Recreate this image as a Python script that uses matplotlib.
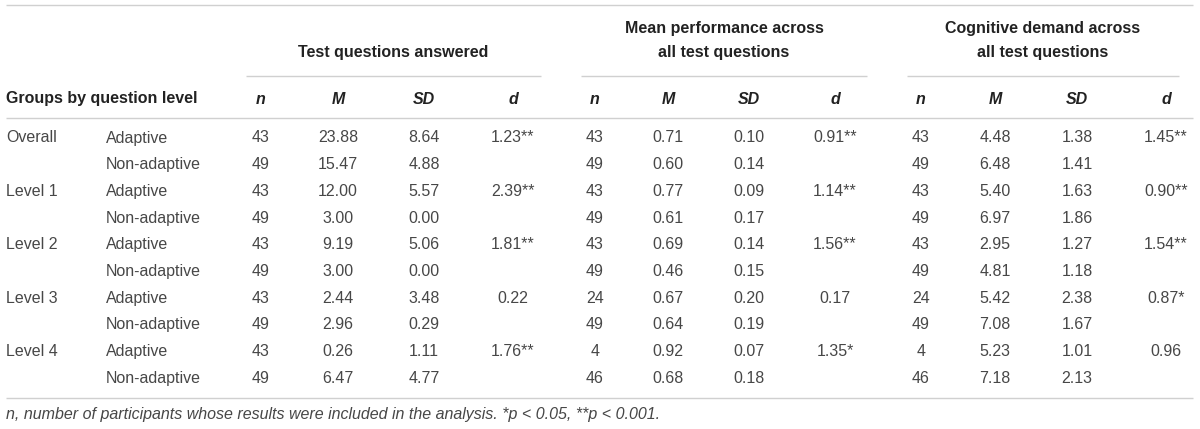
import matplotlib
matplotlib.use("Agg")
import matplotlib.pyplot as plt

plt.rcParams['font.family'] = ['Liberation Sans', 'DejaVu Sans']

# ---------------- data ----------------
group_labels = ["Overall", "Level 1", "Level 2", "Level 3", "Level 4"]
condition_labels = ["Adaptive", "Non-adaptive"]

measure_titles = ["Test questions answered",
                  "Mean performance across\nall test questions",
                  "Cognitive demand across\nall test questions"]
stat_headers = ["n", "M", "SD", "d"]

# Test questions answered
tqa_n = [43, 49, 43, 49, 43, 49, 43, 49, 43, 49]
tqa_M = [23.88, 15.47, 12.00, 3.00, 9.19, 3.00, 2.44, 2.96, 0.26, 6.47]
tqa_SD = [8.64, 4.88, 5.57, 0.00, 5.06, 0.00, 3.48, 0.29, 1.11, 4.77]
tqa_d = [1.23, None, 2.39, None, 1.81, None, 0.22, None, 1.76, None]
tqa_sig = ["**", "", "**", "", "**", "", "", "", "**", ""]

# Mean performance across all test questions
perf_n = [43, 49, 43, 49, 43, 49, 24, 49, 4, 46]
perf_M = [0.71, 0.60, 0.77, 0.61, 0.69, 0.46, 0.67, 0.64, 0.92, 0.68]
perf_SD = [0.10, 0.14, 0.09, 0.17, 0.14, 0.15, 0.20, 0.19, 0.07, 0.18]
perf_d = [0.91, None, 1.14, None, 1.56, None, 0.17, None, 1.35, None]
perf_sig = ["**", "", "**", "", "**", "", "", "", "*", ""]

# Cognitive demand across all test questions
cog_n = [43, 49, 43, 49, 43, 49, 24, 49, 4, 46]
cog_M = [4.48, 6.48, 5.40, 6.97, 2.95, 4.81, 5.42, 7.08, 5.23, 7.18]
cog_SD = [1.38, 1.41, 1.63, 1.86, 1.27, 1.18, 2.38, 1.67, 1.01, 2.13]
cog_d = [1.45, None, 0.90, None, 1.54, None, 0.87, None, 0.96, None]
cog_sig = ["**", "", "**", "", "**", "", "*", "", "", ""]

footnote = ("n, number of participants whose results were included in the "
            "analysis. *p < 0.05, **p < 0.001.")

# ---------------- layout ----------------
W, H = 1200, 429
fig = plt.figure(figsize=(W / 100, H / 100), dpi=100)
ax = fig.add_axes([0, 0, 1, 1])
ax.set_xlim(0, W)
ax.set_ylim(H, 0)
ax.axis('off')

FS = 11.5
BOLD_C = "#222222"
TXT_C = "#474747"
LINE_C = "#d0d0d0"

col_x = [[261, 338, 424, 513],
         [595, 668, 749, 835],
         [921, 995, 1077, 1166]]
group_line = [(246, 541), (581, 867), (907, 1179)]
group_title_y = [52, 40, 40]

row_y0 = 138
row_dy = 26.67

# rules
ax.plot([6, 1193], [5, 5], color=LINE_C, lw=1.0, solid_capstyle='butt')
ax.plot([6, 1193], [118, 118], color=LINE_C, lw=1.0, solid_capstyle='butt')
ax.plot([6, 1193], [398, 398], color=LINE_C, lw=1.0, solid_capstyle='butt')
for (x0, x1) in group_line:
    ax.plot([x0, x1], [76, 76], color=LINE_C, lw=1.0, solid_capstyle='butt')

# group titles
for (x0, x1), title, ty in zip(group_line, measure_titles, group_title_y):
    ax.text((x0 + x1) / 2, ty, title, ha='center', va='center', fontsize=FS,
            fontweight='bold', color=BOLD_C, linespacing=1.75)

# column header row
ax.text(6, 99, "Groups by question level", ha='left', va='center', fontsize=FS,
        fontweight='bold', color=BOLD_C)
for g in range(3):
    for c, h in enumerate(stat_headers):
        ax.text(col_x[g][c], 99, h, ha='center', va='center', fontsize=FS,
                fontweight='bold', fontstyle='italic', color=BOLD_C)

# body
measures = [(tqa_n, tqa_M, tqa_SD, tqa_d, tqa_sig),
            (perf_n, perf_M, perf_SD, perf_d, perf_sig),
            (cog_n, cog_M, cog_SD, cog_d, cog_sig)]

for i in range(10):
    y = row_y0 + i * row_dy
    if i % 2 == 0:
        ax.text(6, y, group_labels[i // 2], ha='left', va='center',
                fontsize=FS, color=TXT_C)
    ax.text(106, y, condition_labels[i % 2], ha='left', va='center',
            fontsize=FS, color=TXT_C)
    for g, (n, M, SD, d, sig) in enumerate(measures):
        vals = [f"{n[i]}", f"{M[i]:.2f}", f"{SD[i]:.2f}",
                "" if d[i] is None else f"{d[i]:.2f}{sig[i]}"]
        for c, v in enumerate(vals):
            if v:
                ax.text(col_x[g][c], y, v, ha='center', va='center',
                        fontsize=FS, color=TXT_C)

ax.text(6, 414, footnote, ha='left', va='center', fontsize=FS,
        fontstyle='italic', color=TXT_C)

fig.savefig("out.png", dpi=100)
